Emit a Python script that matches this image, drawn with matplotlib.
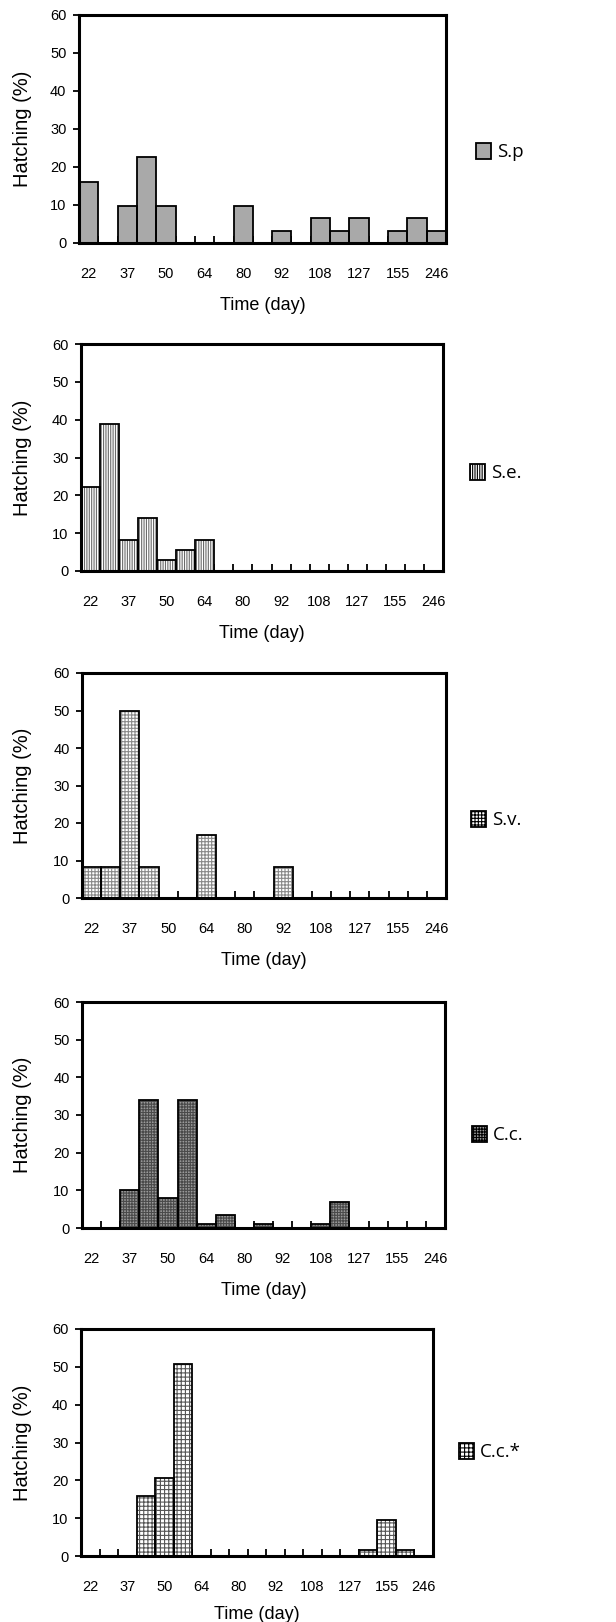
import matplotlib
matplotlib.use("Agg")
import matplotlib.pyplot as plt
import numpy as np

# ---------------- data ----------------
days = ["22", "", "37", "", "50", "", "64", "", "80", "", "92", "", "108", "", "127", "", "155", "", "246"]

sp_vals = [16.1, 0, 9.7, 22.6, 9.7, 0, 0, 0, 9.7, 0, 3.2, 0, 6.5, 3.2, 6.5, 0, 3.2, 6.5, 3.2]
se_vals = [22.2, 38.9, 8.3, 13.9, 2.8, 5.6, 8.3, 0, 0, 0, 0, 0, 0, 0, 0, 0, 0, 0, 0]
sv_vals = [8.3, 8.3, 50.0, 8.3, 0, 0, 16.7, 0, 0, 0, 8.3, 0, 0, 0, 0, 0, 0, 0, 0]
cc_vals = [0, 0, 10.2, 34.1, 8.0, 34.1, 1.1, 3.4, 0, 1.1, 0, 0, 1.1, 6.8, 0, 0, 0, 0, 0]
ccs_vals = [0, 0, 0, 15.9, 20.6, 50.8, 0, 0, 0, 0, 0, 0, 0, 0, 0, 1.6, 9.5, 1.6, 0]

series_names = ["S.p", "S.e.", "S.v.", "C.c.", "C.c.*"]
series_vals = [sp_vals, se_vals, sv_vals, cc_vals, ccs_vals]

y_ticks = [0, 10, 20, 30, 40, 50, 60]

# ---------------- styles / layout ----------------
W, H = 616, 1622
# (left, right, top, bottom) in pixels
boxes = [(79, 446, 15, 243), (81, 443, 344, 571), (82, 446, 673, 898),
         (82, 445, 1002, 1228), (81, 433, 1329, 1556)]
xlabel_pads = [12, 12, 12, 12, 9]
legend_pos = [(476, 152), (470, 473), (471, 820), (472, 1135), (459, 1452)]
styles = [
    dict(face="#a9a9a9", hatch=None, hcolor="#a9a9a9"),
    dict(face="white", hatch="|||||||", hcolor="#6a6a6a"),
    dict(face="white", hatch="+++++", hcolor="#8a8a8a"),
    dict(face="#9a9a9a", hatch="++++++", hcolor="#4a4a4a"),
    dict(face="white", hatch="++++", hcolor="#555555"),
]

plt.rcParams["font.family"] = ["Liberation Sans", "DejaVu Sans"]
plt.rcParams["hatch.linewidth"] = 0.8

fig = plt.figure(figsize=(W / 100, H / 100), dpi=100)

n = len(days)
x = np.arange(n)

for i, (name, vals) in enumerate(zip(series_names, series_vals)):
    l, r, t, b = boxes[i]
    ax = fig.add_axes([l / W, 1 - b / H, (r - l) / W, (b - t) / H])
    st = styles[i]
    # fill with pattern
    ax.bar(x, vals, width=1.0, color=st["face"], edgecolor=st["hcolor"],
           hatch=st["hatch"], linewidth=0, zorder=2)
    # black outline
    bars = ax.bar(x, vals, width=1.0, fill=False, edgecolor="black",
                  linewidth=1.3, zorder=3)
    ax.set_xlim(-0.5, n - 0.5)
    ax.set_ylim(0, 60)
    ax.set_yticks(y_ticks)
    ax.set_yticklabels([str(v) for v in y_ticks], fontsize=10.5)
    ax.set_xticks(x)
    ax.set_xticklabels(days, fontsize=10.5)
    ax.set_xticks(np.arange(0.5, n - 1, 1.0), minor=True)
    ax.tick_params(axis="x", which="major", length=0, pad=17)
    ax.tick_params(axis="x", which="minor", direction="in", length=5, width=1.3)
    ax.tick_params(axis="y", which="major", direction="out", length=4, width=1.3, pad=5)
    for s in ax.spines.values():
        s.set_linewidth(2.2)
    ax.set_xlabel("Time (day)", fontsize=13, labelpad=xlabel_pads[i])
    ax.set_ylabel("Hatching (%)", fontsize=14.5)
    ax.yaxis.set_label_coords(-(l - 32) / (r - l), 0.5)

    # legend
    lx, ly = legend_pos[i]
    leg = fig.legend([bars[0]], [name], loc="center left",
                     bbox_to_anchor=(lx / W, 1 - ly / H), frameon=False,
                     handlelength=0.8, handleheight=1.0, handletextpad=0.3,
                     borderpad=0, borderaxespad=0,
                     prop=dict(family=["Open Sans", "DejaVu Sans"], size=13.5))
    hp = leg.legend_handles[0]
    hp.set_facecolor(st["face"])
    hp.set_fill(True)
    hp.set_hatch(st["hatch"])
    hp.set_edgecolor("black")
    hp.set_linewidth(1.3)

fig.savefig("out.png", dpi=100, facecolor="white")
